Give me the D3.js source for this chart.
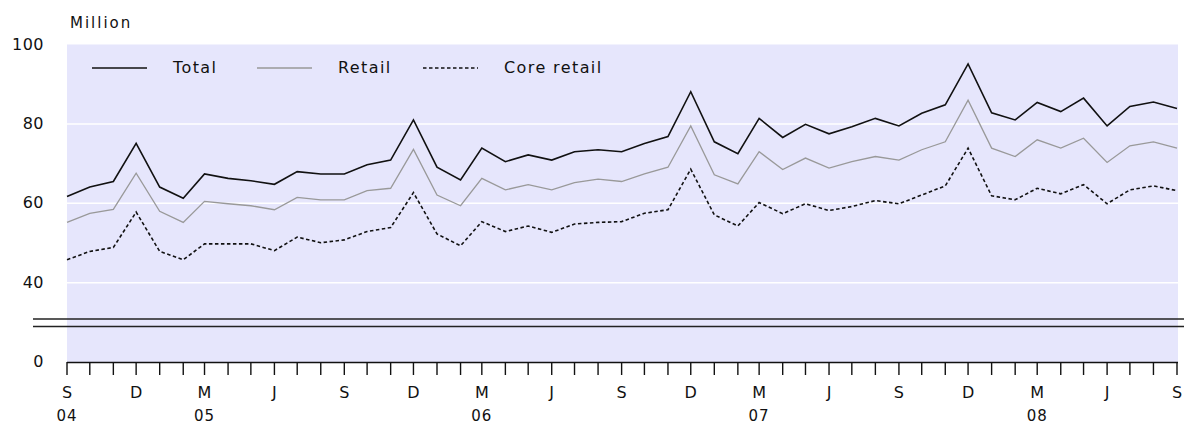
<!DOCTYPE html>
<html>
<head>
<meta charset="utf-8">
<script src="https://cdn.jsdelivr.net/npm/d3@7"></script>
<style>
  body { margin: 0; background: white; }
  text { font-family: 'DejaVu Sans', Verdana, sans-serif; fill: #111; }
</style>
</head>
<body>
<svg id="chart" width="1184" height="425"></svg>
<script>
/* DATA */

// Monthly, Sep 2004 to Sep 2008
const months = d3.range(49).map(i => new Date(2004, 8 + i, 1))

const total = [61.7, 64.1, 65.5, 75.1, 64.1, 61.3, 67.4, 66.3, 65.7, 64.8, 68.0, 67.4, 67.4, 69.7, 70.9, 81.0,
  69.1, 65.9, 73.9, 70.5, 72.2, 70.9, 73.0, 73.5, 73.0, 75.1, 76.8, 88.1, 75.5, 72.5, 81.4, 76.6,
  79.9, 77.5, 79.3, 81.4, 79.5, 82.7, 84.8, 95.1, 82.8, 81.0, 85.4, 83.1, 86.5, 79.5, 84.4, 85.5, 83.9]

const retail = [55.2, 57.5, 58.5, 67.6, 58.0, 55.2, 60.5, 59.9, 59.4, 58.4, 61.5, 60.9, 60.9, 63.2, 63.8, 73.6,
  62.1, 59.4, 66.3, 63.4, 64.7, 63.4, 65.2, 66.1, 65.5, 67.4, 69.1, 79.5, 67.2, 64.9, 73.0, 68.5,
  71.4, 68.9, 70.5, 71.8, 70.9, 73.5, 75.5, 86.0, 73.9, 71.8, 76.0, 73.9, 76.4, 70.3, 74.5, 75.5, 73.9]

const coreRetail = [45.8, 47.9, 48.9, 57.8, 47.9, 45.8, 49.8, 49.8, 49.8, 48.1, 51.5, 50.1, 50.8, 52.9, 53.9, 62.7,
  52.3, 49.3, 55.4, 52.9, 54.3, 52.7, 54.8, 55.2, 55.4, 57.5, 58.4, 68.6, 57.1, 54.3, 60.2, 57.4,
  59.9, 58.2, 59.2, 60.7, 59.9, 62.1, 64.4, 73.9, 61.9, 60.9, 63.8, 62.4, 64.7, 59.9, 63.4, 64.4, 63.2]

const yTicks = [0, 40, 60, 80, 100]
const monthLetters = ['J', 'F', 'M', 'A', 'M', 'J', 'J', 'A', 'S', 'O', 'N', 'D']

const seriesList = [
  { name: 'Total', values: total, colour: '#111', dash: null },
  { name: 'Retail', values: retail, colour: '#999', dash: null },
  { name: 'Core retail', values: coreRetail, colour: '#111', dash: '3.5,2.5' }
]

/* LAYOUT */

const svg = d3.select('#chart')
const g = svg.append('g')
const plotLeft = 67
const plotRight = 1178
const plotTop = 44.5
const plotBottom = 362

const x = d3.scaleTime()
  .domain([months[0], months[months.length - 1]])
  .range([67, 1177])

// Broken axis: 0-30 squashed under the break, 30-100 linear
const y = d3.scaleLinear()
  .domain([0, 30, 100])
  .range([plotBottom, 322.5, plotTop])

/* BACKGROUND */

g.append('rect')
  .attr('x', plotLeft)
  .attr('y', plotTop)
  .attr('width', plotRight - plotLeft)
  .attr('height', plotBottom - plotTop)
  .attr('fill', '#e6e6fc')

// White gridlines
yTicks.filter(d => d > 0 && d < 100).forEach(d => {
  g.append('line')
    .attr('x1', plotLeft)
    .attr('x2', plotRight)
    .attr('y1', y(d))
    .attr('y2', y(d))
    .attr('stroke', 'white')
    .attr('stroke-width', 1.5)
})

// Axis break (double line)
;[319, 326.5].forEach(yy => {
  g.append('line')
    .attr('x1', 33)
    .attr('x2', 1184)
    .attr('y1', yy)
    .attr('y2', yy)
    .attr('stroke', '#222')
    .attr('stroke-width', 1.6)
})

/* Y AXIS LABELS */

yTicks.forEach(d => {
  g.append('text')
    .attr('x', 44)
    .attr('y', y(d) + 5)
    .attr('text-anchor', 'end')
    .attr('font-size', 16)
    .attr('letter-spacing', 0.5)
    .text(d)
})

g.append('text')
  .attr('x', 70)
  .attr('y', 28)
  .attr('font-size', 15)
  .attr('letter-spacing', 2)
  .text('Million')

/* X AXIS */

g.append('line')
  .attr('x1', plotLeft)
  .attr('x2', plotRight)
  .attr('y1', plotBottom + 0.5)
  .attr('y2', plotBottom + 0.5)
  .attr('stroke', '#111')
  .attr('stroke-width', 1.3)

months.forEach(m => {
  g.append('line')
    .attr('x1', x(m))
    .attr('x2', x(m))
    .attr('y1', plotBottom)
    .attr('y2', plotBottom + 13)
    .attr('stroke', '#111')
    .attr('stroke-width', 1.4)
})

// Quarter letters S, D, M, J
months.filter(m => m.getMonth() % 3 === 2).forEach(m => {
  g.append('text')
    .attr('x', x(m))
    .attr('y', 398)
    .attr('text-anchor', 'middle')
    .attr('font-size', 16)
    .text(monthLetters[m.getMonth()])
})

// Year labels under Sep 04 and each March
months.filter((m, i) => i === 0 || m.getMonth() === 2).forEach(m => {
  g.append('text')
    .attr('x', x(m))
    .attr('y', 421)
    .attr('text-anchor', 'middle')
    .attr('font-size', 15)
    .attr('letter-spacing', 1)
    .text(String(m.getFullYear()).slice(2))
})

/* LINES */

const line = d3.line()
  .x((d, i) => x(months[i]))
  .y(d => y(d))

seriesList.forEach(s => {
  g.append('path')
    .datum(s.values)
    .attr('d', line)
    .attr('fill', 'none')
    .attr('stroke', s.colour)
    .attr('stroke-width', s.name === 'Retail' ? 1.3 : 1.6)
    .attr('stroke-dasharray', s.dash)
})

/* LEGEND */

const legendX = [92, 257, 423]
seriesList.forEach((s, i) => {
  g.append('line')
    .attr('x1', legendX[i])
    .attr('x2', legendX[i] + 55)
    .attr('y1', 68)
    .attr('y2', 68)
    .attr('stroke', s.colour)
    .attr('stroke-width', s.name === 'Retail' ? 1.3 : 1.6)
    .attr('stroke-dasharray', s.dash)

  g.append('text')
    .attr('x', legendX[i] + 81)
    .attr('y', 73)
    .attr('font-size', 16)
    .attr('letter-spacing', 1.4)
    .text(s.name)
})
</script>
</body>
</html>
